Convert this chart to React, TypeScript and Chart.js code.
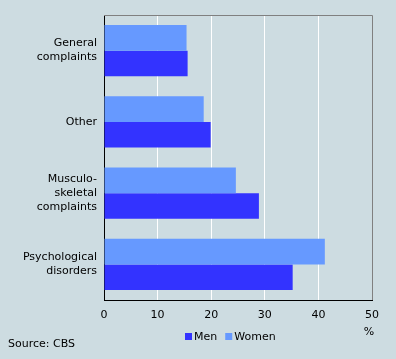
import React, { useEffect, useRef } from "react";
import { Chart, registerables } from "chart.js";

Chart.register(...registerables);

const categories: string[][] = [
  ["General", "complaints"],
  ["Other"],
  ["Musculo-", "skeletal", "complaints"],
  ["Psychological", "disorders"],
];
const seriesNames = ["Women", "Men"];
const women = [15.4, 18.6, 24.6, 41.2];
const men = [15.6, 19.9, 28.9, 35.2];
const colors = { Women: "#6699ff", Men: "#3333ff" };
const xTicks = [0, 10, 20, 30, 40, 50];
const unitLabel = "%";
const sourceText = "Source: CBS";
const legendOrder = ["Men", "Women"];

const BG = "#cddce1";
const FONT = "DejaVu Sans";

export default function App() {
  const ref = useRef<HTMLCanvasElement | null>(null);
  useEffect(() => {
    document.body.style.margin = "0";
    const canvas = ref.current!;
    const extras = {
      id: "extras",
      beforeDraw(chart: any) {
        const { ctx } = chart;
        ctx.save();
        ctx.fillStyle = BG;
        ctx.fillRect(0, 0, chart.width, chart.height);
        ctx.restore();
      },
      afterDraw(chart: any) {
        const { ctx, chartArea } = chart;
        ctx.save();
        ctx.strokeStyle = "#808080";
        ctx.lineWidth = 1;
        ctx.beginPath();
        ctx.moveTo(chartArea.left, chartArea.top + 0.5);
        ctx.lineTo(chartArea.right + 0.5, chartArea.top + 0.5);
        ctx.lineTo(chartArea.right + 0.5, chartArea.bottom);
        ctx.stroke();
        ctx.font = `11px '${FONT}'`;
        ctx.fillStyle = "#000";
        ctx.textBaseline = "middle";
        ctx.textAlign = "center";
        ctx.fillText(unitLabel, chartArea.right - 3, chartArea.bottom + 32);
        ctx.textAlign = "left";
        ctx.fillText(sourceText, 8, chartArea.bottom + 44);
        let x = 185;
        const y = chartArea.bottom + 37;
        legendOrder.forEach((name) => {
          ctx.fillStyle = (colors as any)[name];
          ctx.fillRect(x, y - 4, 7, 7);
          ctx.fillStyle = "#000";
          ctx.fillText(name, x + 9, y);
          x += 9 + ctx.measureText(name).width + 8;
        });
        ctx.restore();
      },
    };
    const chart = new Chart(canvas, {
      type: "bar",
      data: {
        labels: categories as any,
        datasets: seriesNames.map((n) => ({
          label: n,
          data: n === "Women" ? women : men,
          backgroundColor: (colors as any)[n],
          borderWidth: 0,
          barPercentage: 1.0,
          categoryPercentage: 0.716,
        })),
      },
      options: {
        indexAxis: "y",
        animation: false,
        responsive: false,
        layout: { padding: { top: 15, right: 24, left: 0, bottom: 0 } },
        plugins: { legend: { display: false }, tooltip: { enabled: false } },
        scales: {
          x: {
            min: 0,
            max: 50,
            afterBuildTicks: (s: any) => {
              s.ticks = xTicks.map((v) => ({ value: v }));
            },
            afterFit: (s: any) => {
              s.height = 59;
              s.paddingLeft = 0;
              s.paddingRight = 0;
            },
            grid: {
              color: (c: any) =>
                c.tick && (c.tick.value === 0 || c.tick.value === 50) ? "rgba(0,0,0,0)" : "#ffffff",
              drawTicks: false,
              lineWidth: 1,
            },
            border: { color: "#000", width: 1 },
            ticks: { color: "#000", font: { family: FONT, size: 11 }, padding: 9 },
          },
          y: {
            afterFit: (s: any) => {
              s.width = 104;
              s.paddingTop = 0;
              s.paddingBottom = 0;
            },
            grid: { display: false, drawTicks: false },
            border: { color: "#000", width: 1 },
            ticks: {
              color: "#000",
              font: { family: FONT, size: 11, lineHeight: 1.27 },
              padding: 7,
            },
          },
        },
      },
      plugins: [extras],
    } as any);
    return () => chart.destroy();
  }, []);
  return (
    <div style={{ position: "absolute", left: 0, top: 0, width: 396, height: 359, background: BG }}>
      <canvas ref={ref} width={396} height={359} style={{ display: "block" }} />
    </div>
  );
}
